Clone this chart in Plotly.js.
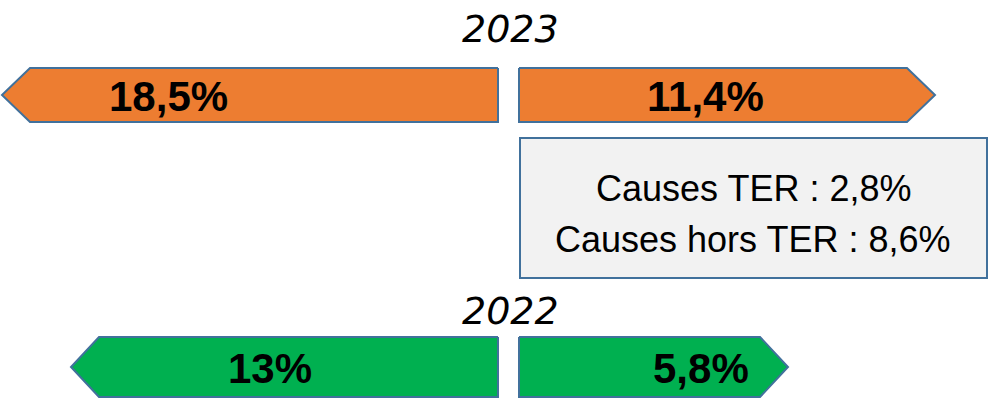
<!DOCTYPE html>
<html>
<head>
<meta charset="utf-8">
<script src="https://cdn.plot.ly/plotly-3.0.1.min.js"></script>
<style>html,body{margin:0;padding:0;background:#fff;}#chart{width:1000px;height:405px;}</style>
</head>
<body>
<div id="chart"></div>
<script>
// ---- data ----
const years = ['2023', '2022'];
const leftValues = [18.5, 13];
const rightValues = [11.4, 5.8];
const leftLabels = ['18,5%', '13%'];
const rightLabels = ['11,4%', '5,8%'];
const causesTER = 2.8;
const causesHorsTER = 8.6;
const boxLines = ['Causes TER : 2,8%', 'Causes hors TER : 8,6%'];
// drawn arrow lengths (axis units) as read from the infographic
const leftArrowLength = [496, 427];
const rightArrowLength = [416, 269];

// ---- layout helpers ----
const rowTop = [68, 337];
const rowBottom = [122, 397];
const yearY = [29, 311];
const leftEdge = 498, rightEdge = 519, notch = 28;
const leftLabelX = [168, 270];
const rightLabelX = [705, 701];
const orange = '#ED7D31', green = '#00B050', outline = '#41719C';
const rowColors = [orange, green];

const traces = [];
const annotations = [];
years.forEach((yr, i) => {
  const t = rowTop[i], b = rowBottom[i], m = (t + b) / 2;
  const lTip = leftEdge - leftArrowLength[i];
  traces.push({
    type: 'scatter', mode: 'lines', fill: 'toself', fillcolor: rowColors[i],
    line: {color: outline, width: 2}, hoverinfo: 'skip',
    x: [leftEdge, lTip + notch, lTip, lTip + notch, leftEdge, leftEdge],
    y: [t, t, m, b, b, t]
  });
  const rTip = rightEdge + rightArrowLength[i];
  traces.push({
    type: 'scatter', mode: 'lines', fill: 'toself', fillcolor: rowColors[i],
    line: {color: outline, width: 2}, hoverinfo: 'skip',
    x: [rightEdge, rTip - notch, rTip, rTip - notch, rightEdge, rightEdge],
    y: [t, t, m, b, b, t]
  });
  annotations.push({x: leftLabelX[i], y: m + 1, xref: 'x', yref: 'y', text: '<b>' + leftLabels[i] + '</b>',
    showarrow: false, font: {family: 'Liberation Sans, Arial, sans-serif', size: 42, color: '#000'}});
  annotations.push({x: rightLabelX[i], y: m + 1, xref: 'x', yref: 'y', text: '<b>' + rightLabels[i] + '</b>',
    showarrow: false, font: {family: 'Liberation Sans, Arial, sans-serif', size: 42, color: '#000'}});
  annotations.push({x: 510, y: yearY[i], xref: 'x', yref: 'y', text: '<i>' + yr + '</i>',
    showarrow: false, font: {family: 'DejaVu Sans, sans-serif', size: 38, color: '#000'}});
});

annotations.push({x: 753, y: 188, xref: 'x', yref: 'y', text: boxLines[0],
  showarrow: false, font: {family: 'Liberation Sans, Arial, sans-serif', size: 36, color: '#000'}});
annotations.push({x: 753, y: 239, xref: 'x', yref: 'y', text: boxLines[1],
  showarrow: false, font: {family: 'Liberation Sans, Arial, sans-serif', size: 36, color: '#000'}});

const layout = {
  width: 1000, height: 405,
  margin: {l: 0, r: 0, t: 0, b: 0},
  paper_bgcolor: '#ffffff', plot_bgcolor: '#ffffff',
  showlegend: false,
  xaxis: {range: [0, 1000], visible: false, fixedrange: true},
  yaxis: {range: [405, 0], visible: false, fixedrange: true},
  shapes: [{type: 'rect', xref: 'x', yref: 'y', x0: 520, x1: 987, y0: 138, y1: 278,
    fillcolor: '#F2F2F2', line: {color: outline, width: 2}, layer: 'below'}],
  annotations: annotations
};
Plotly.newPlot('chart', traces, layout, {displayModeBar: false, staticPlot: true});
</script>
</body>
</html>
